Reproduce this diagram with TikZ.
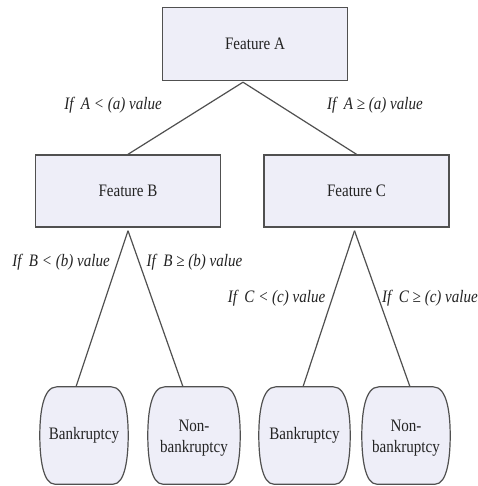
\documentclass[tikz,border=0pt]{standalone}
\usepackage{fontspec}
\usepackage{graphicx}
\setmainfont{Liberation Serif}
\definecolor{boxfill}{RGB}{238,238,248}
\definecolor{edgecol}{RGB}{80,80,80}
\definecolor{txtcol}{RGB}{35,35,35}
\newcommand\sq[1]{\scalebox{0.86}[1]{#1}}
\newcommand\twolines[2]{\sq{\begin{tabular}{@{}c@{}}#1\\#2\end{tabular}}}
\newcommand\barrelshape[1]{%
  \filldraw[leafline]
    ([xshift=17pt]#1.north west) -- ([xshift=-17pt]#1.north east)
    .. controls ([xshift=-3pt]#1.north east) and ([yshift=22pt]#1.east) .. (#1.east)
    .. controls ([yshift=-22pt]#1.east) and ([xshift=-3pt]#1.south east) .. ([xshift=-15pt]#1.south east)
    -- ([xshift=15pt]#1.south west)
    .. controls ([xshift=3pt]#1.south west) and ([yshift=-22pt]#1.west) .. (#1.west)
    .. controls ([yshift=22pt]#1.west) and ([xshift=3pt]#1.north west) .. cycle;}
\begin{document}
\begin{tikzpicture}[x=1pt,y=-1pt,
  feat/.style={draw=edgecol, fill=boxfill, line width=1.4pt, minimum width=185pt, minimum height=73pt, inner sep=0pt, text=txtcol, font=\fontsize{17.5}{24}\selectfont},
  leafline/.style={draw=edgecol, fill=boxfill, line width=1.2pt},
  leaf/.style={minimum height=97pt, inner sep=0pt, align=center, text=txtcol, font=\fontsize{17.5}{21}\selectfont},
  conn/.style={draw=edgecol, line width=1.2pt},
  cond/.style={text=txtcol, inner sep=0pt, font=\fontsize{17.5}{21}\selectfont\itshape}]
\useasboundingbox[fill=white] (0,0) rectangle (477,486);
% internal nodes
\node[feat] (A) at (255,44) {\sq{Feature A}};
\node[feat, minimum height=72pt] (B) at (128,191) {\sq{Feature B}};
\node[feat, minimum height=72pt] (C) at (356.5,191) {\sq{Feature C}};
% leaves
\node[leaf, minimum width=88pt] (L1) at (84,435.5) {};
\node[leaf, minimum width=92pt] (L2) at (194,435.5) {};
\node[leaf, minimum width=91pt] (L3) at (304.5,435.5) {};
\node[leaf, minimum width=88pt] (L4) at (406,435.5) {};
\barrelshape{L1}
\barrelshape{L2}
\barrelshape{L3}
\barrelshape{L4}
\node[leaf] (T1) at (L1) {\sq{Bankruptcy}};
\node[leaf] (T2) at ([yshift=-2pt]L2.center) {\twolines{Non-}{bankruptcy}};
\node[leaf] (T3) at (L3) {\sq{Bankruptcy}};
\node[leaf] (T4) at ([yshift=-2pt]L4.center) {\twolines{Non-}{bankruptcy}};
% connection points
\coordinate (Aap) at ([xshift=-12pt, yshift=-1pt]A.south);
\coordinate (Bap) at ([yshift=-3pt]B.south);
\coordinate (Cap) at ([xshift=-2pt, yshift=-3pt]C.south);
\coordinate (L1t) at ([xshift=-8pt]L1.north);
\coordinate (L2t) at ([xshift=-11pt]L2.north);
\coordinate (L3t) at ([xshift=-1.5pt]L3.north);
\coordinate (L4t) at ([xshift=4pt]L4.north);
% connectors
\draw[conn] (Aap) -- (B.north);
\draw[conn] (Aap) -- (C.north);
\draw[conn] (Bap) -- (L1t);
\draw[conn] (Bap) -- (L2t);
\draw[conn] (Cap) -- (L3t);
\draw[conn] (Cap) -- (L4t);
% conditions
\node[cond] (ca1) at (113,105) {\sq{If\ \ A < (a) value}};
\node[cond] (ca2) at (375,105) {\sq{If\ \ A ≥ (a) value}};
\node[cond] (cb1) at (61,262) {\sq{If\ \ B < (b) value}};
\node[cond] (cb2) at (194.5,262) {\sq{If\ \ B ≥ (b) value}};
\node[cond] (cc1) at (276.5,298) {\sq{If\ \ C < (c) value}};
\node[cond, anchor=west] (cc2) at (382,298) {\sq{If\ \ C ≥ (c) value}};
\end{tikzpicture}
\end{document}
